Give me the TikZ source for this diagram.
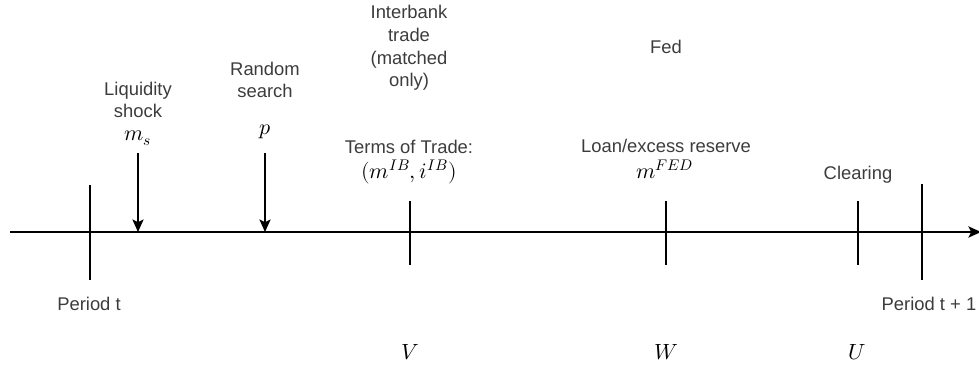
\documentclass[tikz,border=0pt]{standalone}
\usepackage{fontspec}
\setmainfont{Liberation Sans}
\usepackage{unicode-math}
\setmathfont{Latin Modern Math}
\usetikzlibrary{arrows.meta}
\definecolor{txt}{RGB}{60,60,60}
\tikzset{
  lbl/.style={text=txt, font=\fontsize{13.8}{17}\selectfont, align=center, inner sep=0pt},
  mth/.style={text=black, font=\fontsize{16.5}{20}\selectfont, inner sep=0pt},
  tick/.style={line width=0.8pt, draw=black},
  evarrow/.style={line width=0.8pt, draw=black, -{Stealth[length=9.5pt,width=8.5pt,inset=2.2pt]}},
  axis/.style={line width=0.9pt, draw=black, -{Stealth[length=9.5pt,width=8.5pt,inset=2.2pt]}}
}
\begin{document}
\begin{tikzpicture}[x=0.75pt,y=-0.75pt]
\useasboundingbox (0,0) rectangle (979,367);
% axis
\coordinate (axL) at (10,232);
\coordinate (axR) at (981,232);
\draw[axis] (axL) -- (axR);
% ticks
\coordinate (t0a) at (90,185); \coordinate (t0b) at (90,280);
\coordinate (t1a) at (922,184); \coordinate (t1b) at (922,280);
\coordinate (va) at (410,201); \coordinate (vb) at (410,265);
\coordinate (wa) at (666,201); \coordinate (wb) at (666,265);
\coordinate (ua) at (858,201); \coordinate (ub) at (858,265);
\draw[tick] (t0a) -- (t0b);
\draw[tick] (t1a) -- (t1b);
\draw[tick] (va) -- (vb);
\draw[tick] (wa) -- (wb);
\draw[tick] (ua) -- (ub);
% event arrows
\coordinate (sa) at (138,153); \coordinate (sb) at (138,232);
\coordinate (ra) at (265,153); \coordinate (rb) at (265,232);
\draw[evarrow] (sa) -- (sb);
\draw[evarrow] (ra) -- (rb);
% labels
\node[lbl] (liq) at (138,100) {Liquidity\\shock};
\node[mth] (ms) at (138,138) {$m_s$};
\node[lbl] (rs) at (265,80) {Random\\search};
\node[mth] (p) at (265,132) {$p$};
\node[lbl] (ib) at (409,48) {Interbank\\trade\\(matched\\only)};
\node[lbl] (tot) at (409,147) {Terms of Trade:};
\node[mth] (mib) at (409,172) {$(m^{IB},i^{IB})$};
\node[lbl] (fed) at (666,47) {Fed};
\node[lbl] (loan) at (666,146) {Loan/excess reserve};
\node[mth] (mfed) at (665,169) {$m^{FED}$};
\node[lbl] (clr) at (858,175) {Clearing};
\node[lbl] (pt) at (89,304) {Period t};
\node[lbl] (pt1) at (929,304) {Period t + 1};
\node[mth] (V) at (410,352) {$V$};
\node[mth] (W) at (666,352) {$W$};
\node[mth] (U) at (857,352) {$U$};
\end{tikzpicture}
\end{document}
